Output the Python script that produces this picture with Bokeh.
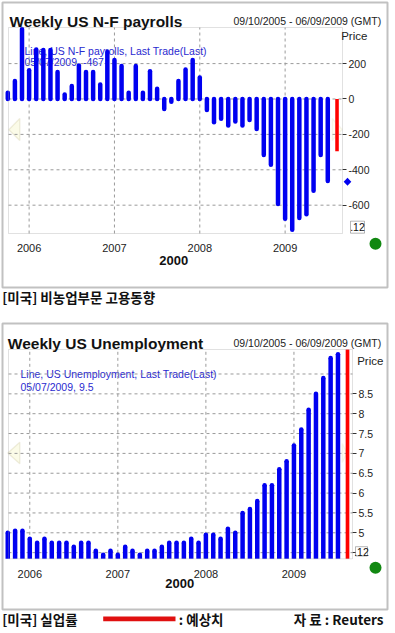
from bokeh.plotting import figure
from bokeh.models import Range1d, FixedTicker, Label, BoxAnnotation, PolyAnnotation
from bokeh.layouts import column
from bokeh.embed import file_html
from bokeh.resources import INLINE

# ---------------- data ----------------
months = ["2005-10", "2005-11", "2005-12",
          "2006-01", "2006-02", "2006-03", "2006-04", "2006-05", "2006-06",
          "2006-07", "2006-08", "2006-09", "2006-10", "2006-11", "2006-12",
          "2007-01", "2007-02", "2007-03", "2007-04", "2007-05", "2007-06",
          "2007-07", "2007-08", "2007-09", "2007-10", "2007-11", "2007-12",
          "2008-01", "2008-02", "2008-03", "2008-04", "2008-05", "2008-06",
          "2008-07", "2008-08", "2008-09", "2008-10", "2008-11", "2008-12",
          "2009-01", "2009-02", "2009-03", "2009-04", "2009-05", "2009-06",
          "2009-07"]
nfp_values = [35, 101, 395, 163, 280, 277, 277, 152, 26, 73, 189, 152,
              152, 82, 265, 220, 186, 35, 186, 35, 157, 58, -56, -15,
              101, 167, 220, 122, -62, -131, -112, -150, -127, -150, -118, -169,
              -316, -372, -594, -677, -739, -673, -651, -519, -316, -463]
nfp_forecast = -295
nfp_last = -467
unemp_values = [5.0, 5.05, 5.05, 4.85, 4.75, 4.85, 4.75, 4.75, 4.75, 4.65,
                4.75, 4.75, 4.55, 4.45, 4.55, 4.45, 4.65, 4.55, 4.45, 4.55,
                4.55, 4.65, 4.75, 4.75, 4.75, 4.85, 4.75, 4.95, 4.95, 4.85,
                5.1, 5.0, 5.5, 5.6, 5.8, 6.2, 6.2, 6.6, 6.8, 7.2,
                7.6, 8.1, 8.5, 8.9, 9.4, 9.5]
unemp_forecast = 9.7
nfp_ticks = [-600, -400, -200, 0, 200]
unemp_ticks = [4.5, 5, 5.5, 6, 6.5, 7, 7.5, 8, 8.5]
unemp_grid = [4.5, 5, 5.5, 6, 6.5, 7, 7.5, 8, 8.5, 9]

idx = list(range(len(months)))
year_ticks = [i for i, m in enumerate(months) if m.endswith("-01")]
year_labels = {i: months[i][:4] for i in year_ticks}

W = 395
BLUE = "#0000f0"
RED = "#ff0000"
GRID = "#9a9a9a"
FONT = "Liberation Sans"
KFONT = "Noto Sans CJK KR"


class Panel:
    """Figure whose frame is the whole canvas; the chart area is a sub-box of it."""

    def __init__(self, H, box_px, xlim, ylim):
        px0, px1, py0, py1 = box_px
        x0, x1 = xlim
        ytop, ybot = ylim
        self.H = H
        self.x0, self.x1, self.ytop, self.ybot = x0, x1, ytop, ybot
        kx = (x1 - x0) / (px1 - px0)
        ky = (ytop - ybot) / (py1 - py0)
        self.kx, self.ky = kx, ky
        xs, xe = x0 - px0 * kx, x1 + (W - px1) * kx
        yt, yb = ytop + py0 * ky, ybot - (H - py1) * ky
        p = figure(width=W, height=H, x_range=Range1d(xs, xe), y_range=Range1d(yb, yt),
                   y_axis_location="right", output_backend="svg", toolbar_location=None,
                   min_border=0, min_border_left=0, min_border_right=0,
                   min_border_top=0, min_border_bottom=0,
                   background_fill_color="white", border_fill_color="white",
                   outline_line_color=None)
        p.title.visible = False
        p.grid.visible = False
        p.xaxis.fixed_location = ybot
        p.yaxis.fixed_location = x1
        p.xaxis.ticker = FixedTicker(ticks=year_ticks)
        p.xaxis.major_label_overrides = year_labels
        p.xaxis.axis_line_color = None
        p.xaxis.major_tick_line_color = None
        p.xaxis.minor_tick_line_color = None
        p.xaxis.major_label_text_font = FONT
        p.xaxis.major_label_text_font_size = "11px"
        p.xaxis.major_label_text_color = "#222222"
        p.xaxis.major_label_standoff = 4
        p.yaxis.axis_line_color = None
        p.yaxis.major_tick_line_color = "#333333"
        p.yaxis.major_tick_out = 4
        p.yaxis.major_tick_in = 0
        p.yaxis.minor_tick_line_color = None
        p.yaxis.major_label_text_font = FONT
        p.yaxis.major_label_text_font_size = "10.5px"
        p.yaxis.major_label_text_color = "#222222"
        p.yaxis.major_label_standoff = 2
        self.p = p

    def grid(self, yticks):
        p = self.p
        p.segment(x0=year_ticks, y0=[self.ybot] * len(year_ticks), x1=year_ticks,
                  y1=[self.ytop] * len(year_ticks), line_color=GRID, line_dash="3 3", line_width=1)
        p.segment(x0=[self.x0] * len(yticks), y0=yticks, x1=[self.x1] * len(yticks), y1=yticks,
                  line_color=GRID, line_dash="3 3", line_width=1)
        p.add_layout(BoxAnnotation(left=self.x0, right=self.x1, top=self.ytop, bottom=self.ybot,
                                   fill_alpha=0, line_color=GRID, line_width=1, level="annotation"))

    def text(self, rx, ry, t, size, color="#111111", bold=False, align="left",
             baseline="middle", font=FONT, level="annotation"):
        self.p.add_layout(Label(x=rx, y=self.H - ry, x_units="screen", y_units="screen",
                                text=t, text_font=font, text_font_size=f"{size}px",
                                text_color=color, text_font_style="bold" if bold else "normal",
                                text_align=align, text_baseline=baseline, level=level))

    def box(self, x0, y0, x1, y1, fill=None, line=None, lw=1, radius=0, level="annotation"):
        self.p.add_layout(BoxAnnotation(left=x0, right=x1, top=self.H - y0, bottom=self.H - y1,
                                        left_units="screen", right_units="screen",
                                        top_units="screen", bottom_units="screen",
                                        fill_color=fill if fill else "white",
                                        fill_alpha=1 if fill else 0,
                                        line_color=line, line_width=lw, border_radius=radius,
                                        level=level))

    def poly(self, pts, fill, line, level="underlay"):
        self.p.add_layout(PolyAnnotation(xs=[a for a, b in pts], ys=[self.H - b for a, b in pts],
                                         xs_units="screen", ys_units="screen",
                                         fill_color=fill, fill_alpha=1, line_color=line,
                                         line_width=1.3, level=level))


# ---------------- chart 1 : N-F payrolls ----------------
c1 = Panel(312, (8, 342, 27, 233), (0.1, 47.07), (404, -760))
p1 = c1.p
p1.yaxis.ticker = FixedTicker(ticks=nfp_ticks)
p1.yaxis.major_label_overrides = {t: str(t) for t in nfp_ticks}
c1.text(24, 50, "Line, US N-F payrolls, Last Trade(Last)", 10.5, color="#2a2ad0", level="underlay")
c1.text(24, 61.7, "05/07/2009, -467", 10.5, color="#2a2ad0", level="underlay")
c1.poly([(8.3, 129.3), (19.3, 118), (19.3, 140)], "#fbfbe8", "#c9c49a")
c1.poly([(331.7, 118), (331.7, 140), (341.7, 129)], "#fdfdf2", "#e4e0c6")
c1.grid(nfp_ticks)
p1.segment(x0=idx, y0=[0] * len(idx), x1=idx, y1=nfp_values, line_color=BLUE,
           line_width=4.5, line_cap="round")
p1.vbar(x=[len(idx) + 0.3], bottom=[0], top=[nfp_forecast], width=0.5,
        fill_color=RED, line_color=None)
dy = 4 * c1.ky
p1.add_layout(PolyAnnotation(xs=[343.2, 347, 350.8, 347],
                             ys=[nfp_last, nfp_last + dy, nfp_last, nfp_last - dy],
                             xs_units="screen", ys_units="data",
                             fill_color=BLUE, fill_alpha=1, line_color=None))
c1.box(2, 2, 387, 287, line="#333333", lw=2)
c1.text(9, 20.7, "Weekly US N-F payrolls", 15.5, bold=True, baseline="alphabetic")
c1.text(233, 20.7, "09/10/2005 - 06/09/2009 (GMT)", 10.5, color="#222222", baseline="alphabetic")
c1.text(340.7, 35, "Price", 11.5, color="#222222")
c1.box(350, 220.7, 364, 232.7, fill="white", line="#111111", lw=1)
c1.text(357, 226.9, ".12", 10.5, color="#111111", align="center", level="overlay")
c1.box(369, 237.3, 381, 249.3, fill="#118811", radius=6)
c1.text(173.3, 260, "2000", 13, bold=True, align="center")
c1.text(1.7, 296.7, "[미국] 비농업부문 고용동향", 13.5, bold=True, font=KFONT)

# ---------------- chart 2 : unemployment ----------------
O = 312  # vertical offset of the second figure on the page
c2 = Panel(321, (8, 352, 349 - O, 558.3 - O), (0.1, 46.98), (9.617, 4.345))
p2 = c2.p
p2.yaxis.ticker = FixedTicker(ticks=unemp_ticks)
p2.yaxis.major_label_overrides = {t: ("" if t == 4.5 else ("%g" % t)) for t in unemp_ticks}
p2.xaxis.major_label_standoff = 5
c2.text(20, 373.3 - O, "Line, US Unemployment, Last Trade(Last)", 10.5, color="#2a2ad0", level="underlay")
c2.text(20, 386.7 - O, "05/07/2009, 9.5", 10.5, color="#2a2ad0", level="underlay")
c2.poly([(7.3, 452.5 - O), (19.3, 441.7 - O), (19.3, 463.3 - O)], "#fbfbe8", "#c9c49a")
c2.poly([(341.7, 443 - O), (341.7, 462 - O), (346.7, 452.5 - O)], "#fdfdf2", "#e4e0c6")
c2.grid(unemp_grid)
bw = 4.5 * c2.kx
p2.vbar(x=idx, bottom=c2.ybot, top=unemp_values, width=bw, fill_color=BLUE, line_color=None)
p2.scatter(x=idx, y=unemp_values, marker="circle", size=4.5, fill_color=BLUE, line_color=None)
p2.vbar(x=[len(idx) + 0.3], bottom=c2.ybot, top=[min(unemp_forecast, c2.ytop)], width=0.5,
        fill_color=RED, line_color=None)
c2.box(2, 323 - O, 387, 609 - O, line="#333333", lw=2)
c2.text(7.3, 343 - O, "Weekly US Unemployment", 15.5, bold=True, baseline="alphabetic")
c2.text(233, 342.7 - O, "09/10/2005 - 06/09/2009 (GMT)", 10.5, color="#222222", baseline="alphabetic")
c2.text(356.7, 360.7 - O, "Price", 11.5, color="#222222")
c2.box(355, 546.2 - O, 367, 555.5 - O, fill="white", line="#111111", lw=1)
c2.text(361, 551 - O, ".12", 10.5, color="#111111", align="center", level="overlay")
c2.box(369, 561.3 - O, 381, 573.3 - O, fill="#118811", radius=6)
c2.text(179.3, 582.7 - O, "2000", 13, bold=True, align="center")
c2.text(1.7, 618.3 - O, "[미국] 실업률", 13.5, bold=True, font=KFONT)
c2.box(102.7, 616 - O, 175, 620.7 - O, fill="#e01010")
c2.text(178.3, 618.3 - O, ": 예상치", 13.5, bold=True, font=KFONT)
c2.text(383, 618.3 - O, "자 료 : Reuters", 13.5, bold=True, font=KFONT, align="right")

layout = column(p1, p2, spacing=0)
open("out.html", "w").write(file_html(layout, INLINE))
